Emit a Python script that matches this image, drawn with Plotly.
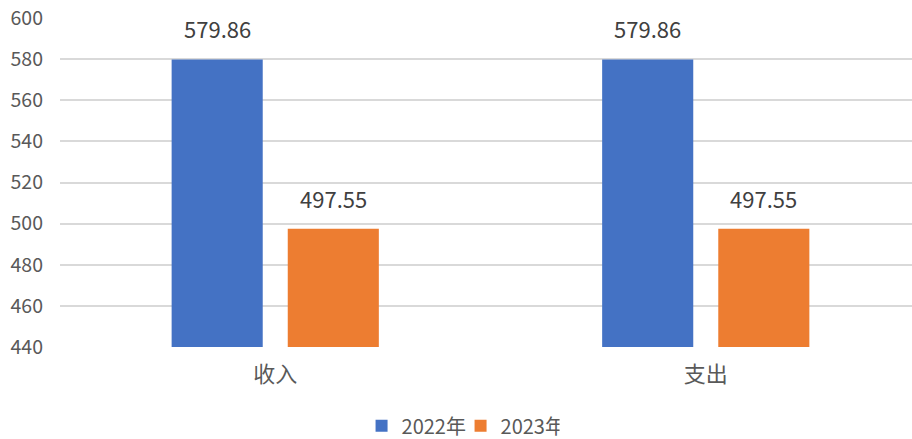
import plotly.graph_objects as go

categories = ["收入", "支出"]
series_names = ["2022年", "2023年"]
values_2022 = [579.86, 579.86]
values_2023 = [497.55, 497.55]
y_ticks = [440, 460, 480, 500, 520, 540, 560, 580, 600]

colors = ["#4472C4", "#ED7D31"]
FONT = "Noto Sans CJK SC, Microsoft YaHei, sans-serif"

bar_w = 0.2116
offsets = [-0.2407, 0.029]

fig = go.Figure()
for name, vals, col, off in zip(series_names, [values_2022, values_2023], colors, offsets):
    fig.add_trace(go.Bar(
        x=categories, y=vals, name=name, marker=dict(color=col, line=dict(width=0)),
        width=bar_w, offset=off,
    ))

# data labels
annotations = []
for vals, off in zip([values_2022, values_2023], offsets):
    for i, v in enumerate(vals):
        annotations.append(dict(
            x=i + off + bar_w / 2, y=v, xref="x", yref="y", text=f"{v:.2f}",
            showarrow=False, yanchor="middle", yshift=31,
            font=dict(family=FONT, size=22, color="#404040"),
        ))

fig.update_layout(
    template="none",
    width=912, height=439,
    margin=dict(l=60, r=0, t=18, b=92, autoexpand=False),
    paper_bgcolor="white", plot_bgcolor="white",
    barmode="group",
    showlegend=True,
    legend=dict(orientation="h", xref="container", yref="container",
                x=0.505, xanchor="center", y=0.03, yanchor="middle",
                font=dict(family=FONT, size=20, color="#595959"),
                itemwidth=30, entrywidth=54, traceorder="normal"),
    annotations=annotations,
    font=dict(family=FONT),
)
fig.update_xaxes(
    type="category", range=[-0.5, 1.479], showgrid=False, showline=False,
    zeroline=False, ticks="", ticklabelstandoff=12, automargin=False,
    tickfont=dict(family=FONT, size=22, color="#595959"),
)
fig.update_yaxes(
    range=[440, 600], tickvals=y_ticks, showgrid=True, gridcolor="#d9d9d9",
    gridwidth=2, zeroline=False, showline=False, ticks="", ticklabelstandoff=16,
    automargin=False,
    tickfont=dict(family=FONT, size=19.5, color="#595959"),
)

fig.write_html("out.html", config={"displayModeBar": False},
               post_script="document.body.style.margin='0';")
